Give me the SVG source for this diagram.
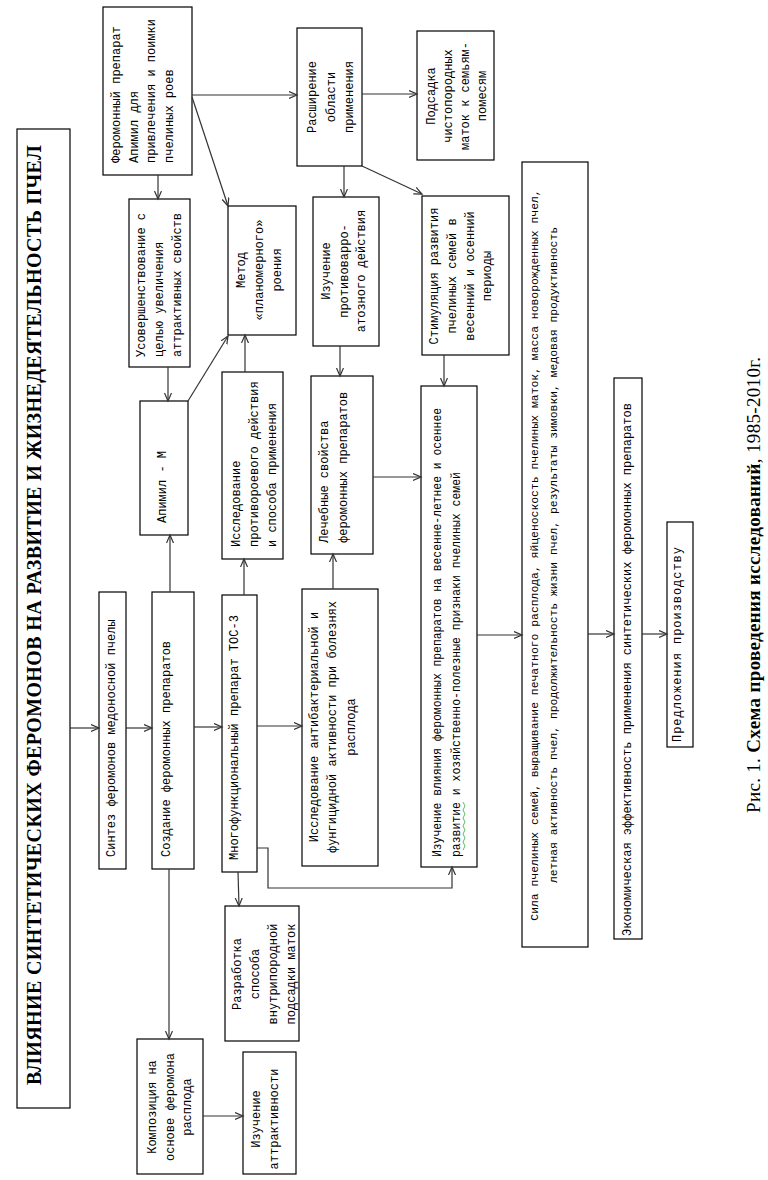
<svg xmlns="http://www.w3.org/2000/svg" width="768" height="1180" viewBox="0 0 768 1180">
<style>
.box{fill:#fff;stroke:#000;stroke-width:1.2}
.t{font-family:"Liberation Mono","DejaVu Sans Mono",monospace;font-size:12px;fill:#000}
.m{text-anchor:middle}
.title{font-family:"Liberation Serif","Times New Roman",serif;font-size:20px;font-weight:bold;fill:#000;text-anchor:middle}
.cap{font-family:"Liberation Serif","Times New Roman",serif;font-size:19px;fill:#000;text-anchor:middle}
#connectors line,#connectors polyline{stroke:#333;stroke-width:1.2;fill:none;marker-end:url(#arr)}
</style>
<defs>
<marker id="arr" markerUnits="userSpaceOnUse" markerWidth="10" markerHeight="10" refX="8" refY="4" orient="auto">
<path d="M0,0.5 L8,4 L0,7.5" fill="none" stroke="#333" stroke-width="1.2"/>
</marker>
</defs>
<rect width="768" height="1180" fill="#fff"/>

<g id="title">
<rect class="box" x="17" y="129" width="53" height="979"/>
<text class="title" x="41" y="615" transform="rotate(-90 41 615)" textLength="940" lengthAdjust="spacing">ВЛИЯНИЕ СИНТЕТИЧЕСКИХ ФЕРОМОНОВ НА РАЗВИТИЕ И ЖИЗНЕДЕЯТЕЛЬНОСТЬ ПЧЕЛ</text>
</g>

<g id="sintez">
<rect class="box" x="99" y="592" width="27" height="277"/>
<text class="t" x="115" y="857" transform="rotate(-90 115 857)">Синтез феромонов медоносной пчелы</text>
</g>

<g id="sozdanie">
<rect class="box" x="152" y="592" width="42" height="277"/>
<text class="t" x="170" y="857" transform="rotate(-90 170 857)">Создание феромонных препаратов</text>
</g>

<g id="tos3">
<rect class="box" x="222" y="595" width="35" height="277"/>
<text class="t" x="238" y="860" transform="rotate(-90 238 860)">Многофункциональный препарат ТОС-3</text>
</g>

<g id="antibakt">
<rect class="box" x="302" y="589" width="76" height="277"/>
<text class="t m" x="318" y="727" transform="rotate(-90 318 727)">Исследование антибактериальной и</text>
<text class="t m" x="336" y="727" transform="rotate(-90 336 727)">фунгицидной активности при болезнях</text>
<text class="t m" x="355" y="727" transform="rotate(-90 355 727)">расплода</text>
</g>

<g id="vliyanie">
<rect class="box" x="421" y="386" width="56" height="481"/>
<text class="t" x="441" y="857" transform="rotate(-90 441 857)" textLength="449" lengthAdjust="spacingAndGlyphs">Изучение влияния феромонных препаратов на весенне-летнее и осеннее</text>
<text class="t" x="460" y="857" transform="rotate(-90 460 857)" textLength="385" lengthAdjust="spacingAndGlyphs">развитие и хозяйственно-полезные признаки пчелиных семей</text>
<polyline points="463,850 465,846 463,842 465,838 463,834 465,830 463,826 465,822 463,818 465,814 463,810 465,806 463,802" fill="none" stroke="#3a3" stroke-width="0.8"/>
</g>

<g id="sila">
<rect class="box" x="522" y="162" width="66" height="785"/>
<text class="t m" x="538" y="555" transform="rotate(-90 538 555)" style="font-size:11.4px">Сила пчелиных семей, выращивание печатного расплода, яйценоскость пчелиных маток, масса новорожденных пчел,</text>
<text class="t m" x="557" y="555" transform="rotate(-90 557 555)" style="font-size:11.4px">летная активность пчел, продолжительность жизни пчел, результаты зимовки, медовая продуктивность</text>
</g>

<g id="ekonom">
<rect class="box" x="614" y="378" width="28" height="561"/>
<text class="t" x="631" y="936" transform="rotate(-90 631 936)">Экономическая эффективность применения синтетических феромонных препаратов</text>
</g>

<g id="predlozh">
<rect class="box" x="667" y="522" width="26" height="225"/>
<text class="t" x="681" y="742" transform="rotate(-90 681 742)" textLength="195" lengthAdjust="spacing">Предложения производству</text>
</g>

<g id="apimil">
<rect class="box" x="103" y="7" width="89" height="168"/>
<text class="t" x="120" y="163" transform="rotate(-90 120 163)">Феромонный препарат</text>
<text class="t" x="138" y="163" transform="rotate(-90 138 163)">Апимил для</text>
<text class="t" x="155" y="163" transform="rotate(-90 155 163)">привлечения и поимки</text>
<text class="t" x="173" y="163" transform="rotate(-90 173 163)">пчелиных роев</text>
</g>

<g id="usover">
<rect class="box" x="129" y="199" width="61" height="168"/>
<text class="t" x="145" y="357" transform="rotate(-90 145 357)">Усовершенствование с</text>
<text class="t" x="163" y="357" transform="rotate(-90 163 357)">целью увеличения</text>
<text class="t" x="181" y="357" transform="rotate(-90 181 357)">аттрактивных свойств</text>
</g>

<g id="metod">
<rect class="box" x="228" y="206" width="68" height="129"/>
<text class="t m" x="245" y="270" transform="rotate(-90 245 270)">Метод</text>
<text class="t m" x="263" y="270" transform="rotate(-90 263 270)">«планомерного»</text>
<text class="t m" x="281" y="270" transform="rotate(-90 281 270)">роения</text>
</g>

<g id="rasshir">
<rect class="box" x="297" y="28" width="65" height="138"/>
<text class="t m" x="316" y="97" transform="rotate(-90 316 97)">Расширение</text>
<text class="t m" x="335" y="97" transform="rotate(-90 335 97)">области</text>
<text class="t m" x="353" y="97" transform="rotate(-90 353 97)">применения</text>
</g>

<g id="podsadka">
<rect class="box" x="417" y="31" width="77" height="129"/>
<text class="t m" x="435" y="96" transform="rotate(-90 435 96)">Подсадка</text>
<text class="t m" x="452" y="96" transform="rotate(-90 452 96)">чистопородных</text>
<text class="t m" x="469" y="96" transform="rotate(-90 469 96)">маток к семьям-</text>
<text class="t m" x="486" y="96" transform="rotate(-90 486 96)">помесям</text>
</g>

<g id="varroa">
<rect class="box" x="313" y="197" width="66" height="149"/>
<text class="t m" x="330" y="271" transform="rotate(-90 330 271)">Изучение</text>
<text class="t m" x="348" y="271" transform="rotate(-90 348 271)">противоварро-</text>
<text class="t m" x="365" y="271" transform="rotate(-90 365 271)">атозного действия</text>
</g>

<g id="stimul">
<rect class="box" x="422" y="196" width="87" height="159"/>
<text class="t m" x="438" y="276" transform="rotate(-90 438 276)">Стимуляция развития</text>
<text class="t m" x="456" y="276" transform="rotate(-90 456 276)">пчелиных семей в</text>
<text class="t m" x="474" y="276" transform="rotate(-90 474 276)">весенний и осенний</text>
<text class="t m" x="491" y="276" transform="rotate(-90 491 276)">периоды</text>
</g>

<g id="apimil-m">
<rect class="box" x="140" y="401" width="48" height="134"/>
<text class="t" x="166" y="523" transform="rotate(-90 166 523)">Апимил - М</text>
</g>

<g id="protivoroev">
<rect class="box" x="222" y="372" width="61" height="187"/>
<text class="t" x="240" y="547" transform="rotate(-90 240 547)">Исследование</text>
<text class="t" x="258" y="547" transform="rotate(-90 258 547)">противороевого действия</text>
<text class="t" x="276" y="547" transform="rotate(-90 276 547)">и способа применения</text>
</g>

<g id="lechebnye">
<rect class="box" x="311" y="376" width="62" height="178"/>
<text class="t" x="328" y="543" transform="rotate(-90 328 543)">Лечебные свойства</text>
<text class="t" x="347" y="543" transform="rotate(-90 347 543)">феромонных препаратов</text>
</g>

<g id="razrabotka">
<rect class="box" x="225" y="906" width="74" height="135"/>
<text class="t m" x="241" y="974" transform="rotate(-90 241 974)">Разработка</text>
<text class="t m" x="259" y="974" transform="rotate(-90 259 974)">способа</text>
<text class="t m" x="277" y="974" transform="rotate(-90 277 974)">внутрипородной</text>
<text class="t m" x="295" y="974" transform="rotate(-90 295 974)">подсадки маток</text>
</g>

<g id="kompoz">
<rect class="box" x="137" y="1039" width="66" height="135"/>
<text class="t m" x="156" y="1107" transform="rotate(-90 156 1107)">Композиция на</text>
<text class="t m" x="174" y="1107" transform="rotate(-90 174 1107)">основе феромона</text>
<text class="t m" x="191" y="1107" transform="rotate(-90 191 1107)">расплода</text>
</g>

<g id="attrakt">
<rect class="box" x="243" y="1052" width="53" height="122"/>
<text class="t m" x="260" y="1119" transform="rotate(-90 260 1119)">Изучение</text>
<text class="t m" x="278" y="1119" transform="rotate(-90 278 1119)">аттрактивности</text>
</g>

<g id="connectors">
<line x1="70" y1="728" x2="99" y2="728"/>
<line x1="126" y1="728" x2="152" y2="728"/>
<line x1="194" y1="727" x2="222" y2="727"/>
<line x1="257" y1="726" x2="302" y2="726"/>
<line x1="170" y1="592" x2="170" y2="535"/>
<line x1="169" y1="869" x2="169" y2="1039"/>
<line x1="238" y1="872" x2="239" y2="906"/>
<line x1="244" y1="595" x2="244" y2="559"/>
<line x1="333" y1="589" x2="333" y2="554"/>
<line x1="245" y1="372" x2="245" y2="335"/>
<line x1="188" y1="401" x2="228" y2="336"/>
<line x1="168" y1="367" x2="168" y2="401"/>
<line x1="158" y1="175" x2="158" y2="199"/>
<line x1="192" y1="97" x2="228" y2="206"/>
<line x1="192" y1="95" x2="297" y2="95"/>
<line x1="362" y1="94" x2="417" y2="94"/>
<line x1="344" y1="166" x2="344" y2="197"/>
<line x1="362" y1="166" x2="422" y2="194"/>
<line x1="340" y1="346" x2="340" y2="376"/>
<line x1="444" y1="355" x2="444" y2="386"/>
<line x1="373" y1="477" x2="421" y2="477"/>
<polyline points="257,848 268,848 268,888 452,888 452,867"/>
<line x1="477" y1="635" x2="522" y2="635"/>
<line x1="588" y1="634" x2="614" y2="634"/>
<line x1="642" y1="634" x2="667" y2="634"/>
<line x1="203" y1="1116" x2="243" y2="1116"/>
</g>

<text class="cap" x="760" y="585" transform="rotate(-90 760 585)" textLength="456" lengthAdjust="spacing">Рис. 1. <tspan font-weight="bold">Схема проведения исследований</tspan>, 1985-2010г.</text>
</svg>
